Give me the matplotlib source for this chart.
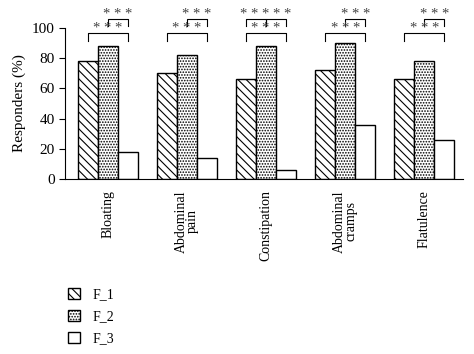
import numpy as np
import matplotlib.pyplot as plt

plt.rcParams['font.family'] = ['Liberation Serif', 'DejaVu Serif']
plt.rcParams['hatch.linewidth'] = 0.8

categories = ['Bloating', 'Abdominal\npain', 'Constipation', 'Abdominal\ncramps', 'Flatulence']
series_names = ['F_1', 'F_2', 'F_3']
f1 = [78, 70, 66, 72, 66]
f2 = [88, 82, 88, 90, 78]
f3 = [18, 14, 6, 36, 26]
hatches = ['\\\\\\\\', '......', '']

# significance brackets: (group, bar a, bar b, level)
brackets = [
    (0, 0, 2, 0), (0, 1, 2, 1),
    (1, 0, 2, 0), (1, 1, 2, 1),
    (2, 0, 2, 0), (2, 0, 1, 1), (2, 1, 2, 1),
    (3, 0, 2, 0), (3, 1, 2, 1),
    (4, 0, 2, 0), (4, 1, 2, 1),
]

fig = plt.figure(figsize=(4.74, 3.54), dpi=100)
ax = fig.add_axes([0.137, 0.494, 0.840, 0.427])

x = np.arange(len(categories))
w = 0.253
data = [f1, f2, f3]
for i, (vals, name, h) in enumerate(zip(data, series_names, hatches)):
    ax.bar(x + (i - 1) * w, vals, w, facecolor='white', edgecolor='black',
           hatch=h, linewidth=1.0, label=name)

levels = [(96.5, 91.5), (106, 101.5)]
labels = {}
for g, a, b, lev in brackets:
    xa = g + (a - 1) * w
    xb = g + (b - 1) * w
    top, bot = levels[lev]
    ax.plot([xa, xa, xb, xb], [bot, top, top, bot], color='black', lw=0.8,
            clip_on=False)
    labels.setdefault((g, lev), []).append((xa + xb) / 2)

# adjacent brackets on one level share their star labels (merged "*****")
for (g, lev), centres in labels.items():
    stars = '* * *' if len(centres) == 1 else '* * * * *'
    ax.text(np.mean(centres), levels[lev][0] - 1.2, stars, ha='center',
            va='bottom', fontsize=10.5, color='#444444', clip_on=False)

ax.set_xlim(-0.544, 4.49)
ax.set_ylim(0, 100)
ax.set_yticks(range(0, 101, 20))
ax.set_xticks(x)
ax.set_xticklabels(categories, rotation=90, fontsize=10, linespacing=0.8)
ax.tick_params(axis='x', length=0, pad=8)
ax.tick_params(axis='y', labelsize=11, direction='out', length=4)
ax.set_ylabel('Responders (%)', fontsize=11)
ax.spines['top'].set_visible(False)
ax.spines['right'].set_visible(False)

fig.legend(loc='upper left', bbox_to_anchor=(0.117, 0.222), frameon=False,
           handlelength=0.9, handleheight=0.9, fontsize=10, labelspacing=0.6,
           handletextpad=0.9)

fig.savefig('out.png', dpi=100)
